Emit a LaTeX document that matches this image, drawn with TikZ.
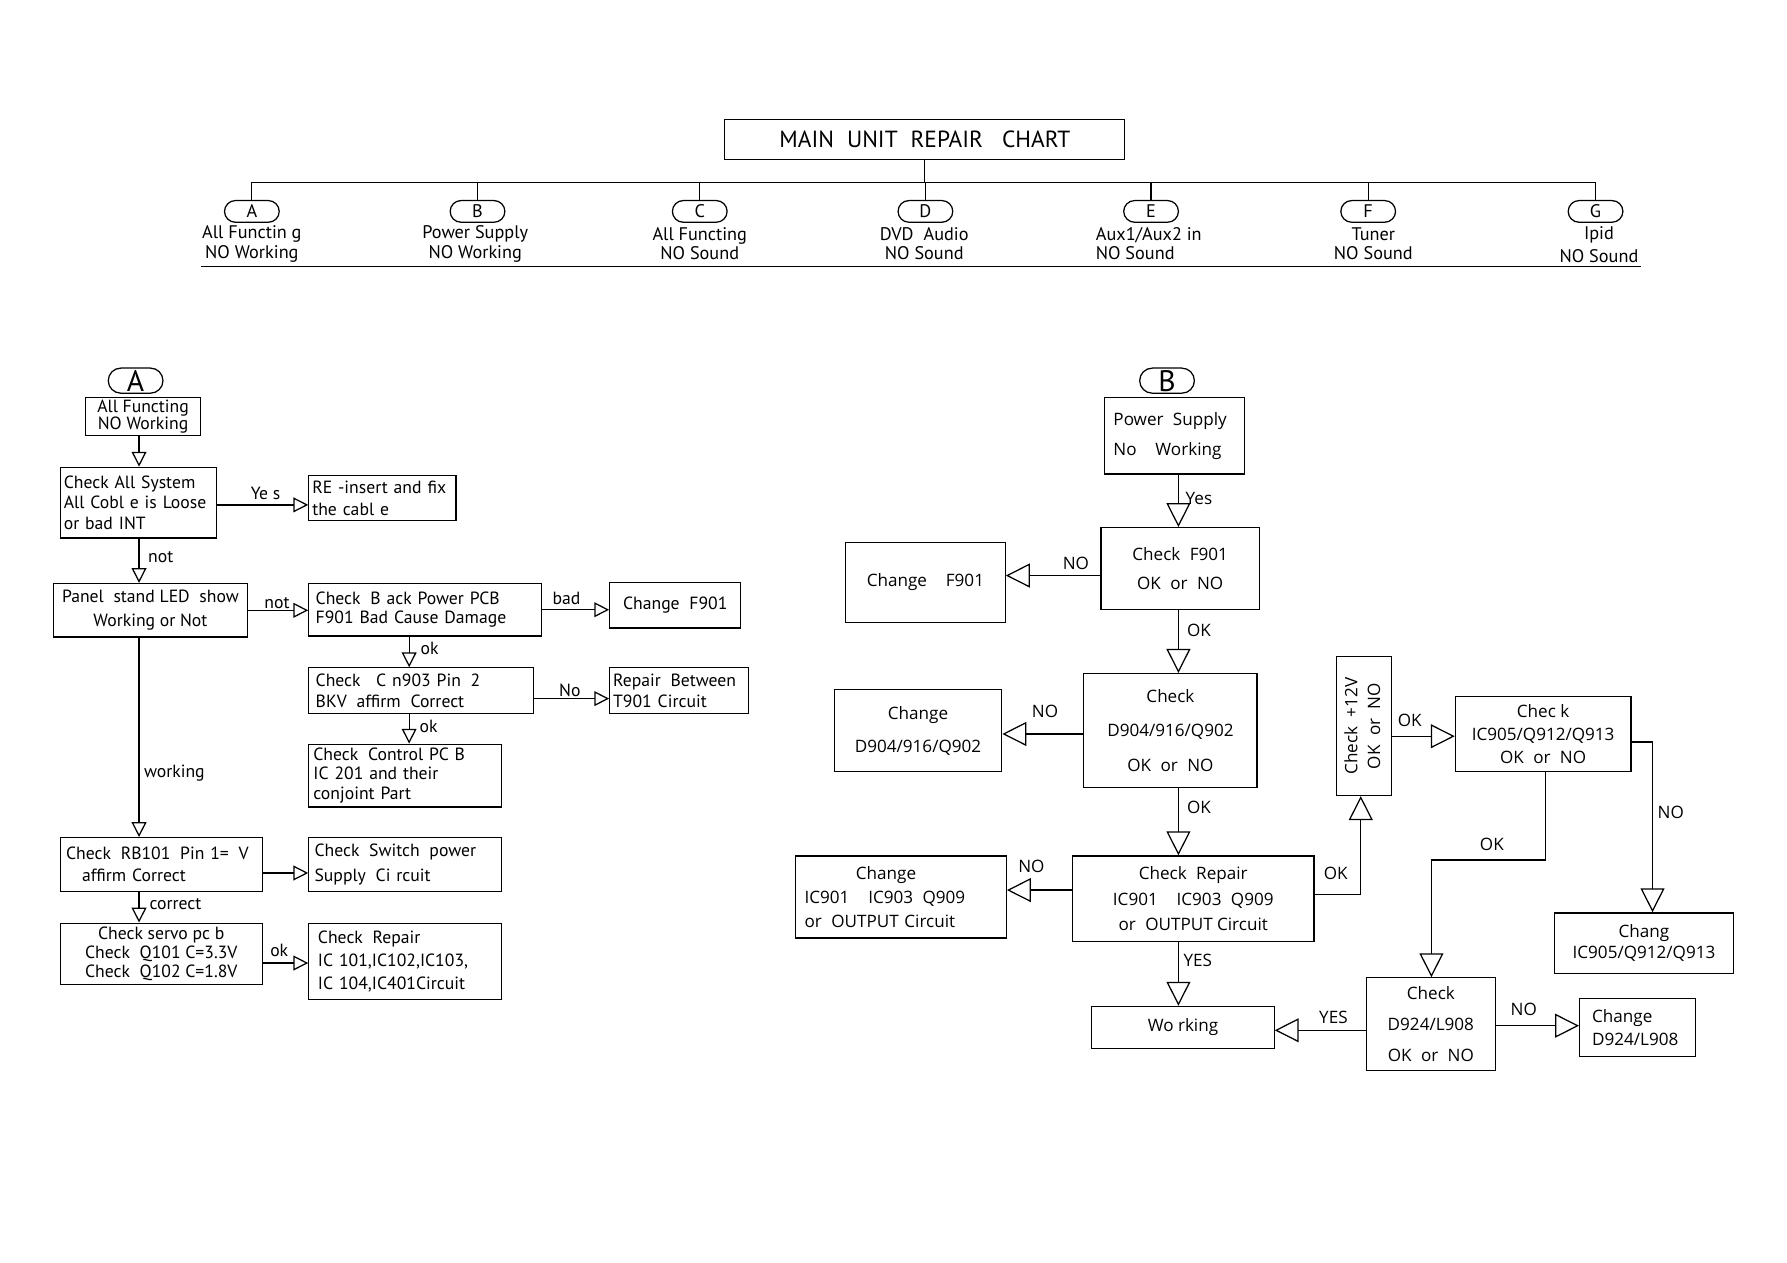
\documentclass[tikz,border=0pt]{standalone}
\usepackage{fontspec}
\usepackage{graphicx}
\setmainfont{PT Sans}
\newfontfamily\fA{PT Sans}
\newfontfamily\fB{Open Sans}
\usetikzlibrary{arrows.meta,calc}
\newcommand\gap{\hspace{0.55em}}
\newcommand\fsA[1]{\fA\fontsize{15.5}{#1}\selectfont}
\newcommand\fsB[1]{\fB\fontsize{15}{#1}\selectfont}
\newcommand\fsH[1]{\fA\fontsize{16}{#1}\selectfont}
\tikzset{
  bx/.style={draw, line width=1.1pt, inner sep=0pt, align=center},
  ovH/.style={draw, line width=1.1pt, inner sep=0pt, rounded corners=9.5pt, minimum width=48pt, minimum height=19pt, font=\fsH{16}},
  ovS/.style={draw, line width=1.1pt, inner sep=0pt, rounded corners=11pt, minimum width=48pt, minimum height=22pt, font=\fA\fontsize{26}{26}\selectfont},
  hl/.style={inner sep=0pt, align=center, font=\fsH{17}},
  arrA/.style={line width=1.1pt, -{Triangle[open,length=13pt,width=13pt,line width=1.1pt]}},
  arrB/.style={line width=1.1pt, -{Triangle[open,length=21pt,width=21pt,line width=1.1pt]}},
  ln/.style={line width=1.1pt},
  lblA/.style={inner sep=0pt, font=\fsA{18}},
  lblB/.style={inner sep=0pt, font=\fsB{18}},
}
\begin{document}
\begin{tikzpicture}[x=1pt,y=-1pt]
\useasboundingbox[fill=white] (0,0) rectangle (1568,1108);

% ---------------- header ----------------
\node[bx, minimum width=351pt, minimum height=35pt, font=\fA\fontsize{20.5}{22}\selectfont] (h0) at (811.5,122.5) {MAIN\gap UNIT\gap REPAIR\gap\ CHART};
\coordinate (bus) at (811.5,160);
\node[ovH] (oA) at (221,185.5) {A};
\node[ovH] (oB) at (419,185.5) {B};
\node[ovH] (oC) at (614,185.5) {C};
\node[ovH] (oD) at (812,185.5) {D};
\node[ovH] (oE) at (1010,185.5) {E};
\node[ovH] (oF) at (1200.5,185.5) {F};
\node[ovH] (oG) at (1400,185.5) {G};
\draw[ln] (h0.south) -- (bus);
\draw[ln] (oA.north) |- (bus) -| (oG.north);
\foreach \n in {oB,oC,oD,oE,oF} \draw[ln] (\n.north) -- (\n.north |- bus);
\node[hl] (tA) at (221,214) {All Functin g\\NO Working};
\node[hl] (tB) at (417,214) {Power Supply\\NO Working};
\node[hl] (tC) at (614,214) {All Functing\\NO Sound};
\node[hl] (tD) at (811,214) {DVD\gap Audio\\NO Sound};
\node[hl, align=left] (tE) at (1008,214) {Aux1/Aux2 in\\NO Sound};
\node[hl] (tF) at (1205,214) {Tuner\\NO Sound};
\node[hl, font=\fsH{20}] (tG) at (1403,215) {Ipid\\NO Sound};
\coordinate (ul1) at (176,234);
\coordinate (ul2) at (1440,234);
\draw[ln] (ul1) -- (ul2);

% ---------------- section A ----------------
\node[ovS] (oa) at (119,334) {A};
\node[bx, minimum width=101pt, minimum height=33pt, font=\fsA{13}] (a1) at (125.5,365.5) {All Functing\\NO Working};
\node[bx, minimum width=137pt, minimum height=62pt, text width=131pt, align=left, font=\fsA{18}] (a2) at (121.5,441) {Check All System\\All Cobl e is Loose\\or bad INT};
\node[bx, minimum width=129pt, minimum height=40pt, text width=123pt, align=left, font=\fsA{19}] (a3) at (335.5,437) {RE -insert and fix\\the cabl e};
\node[bx, minimum width=170pt, minimum height=47pt, font=\fsA{21}] (a4) at (132,535.5) {Panel\gap stand LED\gap show\\Working or Not};
\node[bx, minimum width=204pt, minimum height=46pt, text width=192pt, align=left, font=\fsA{17}] (a5) at (373,535) {Check\gap B ack Power PCB\\F901 Bad Cause Damage};
\node[bx, minimum width=115pt, minimum height=40pt, font=\fsA{18}] (a6) at (592.5,531) {Change\gap F901};
\node[bx, minimum width=197pt, minimum height=40pt, text width=185pt, align=left, font=\fsA{19}] (a7) at (369.5,606) {Check\gap\ C n903 Pin\gap 2\\BKV\gap affirm\gap Correct};
\node[bx, minimum width=122pt, minimum height=40pt, text width=116pt, align=left, font=\fsA{18}] (a8) at (596,606) {Repair\gap Between\\T901 Circuit};
\node[bx, minimum width=169pt, minimum height=55pt, text width=161pt, align=left, font=\fsA{17}] (a9) at (355.5,680.5) {Check\gap Control PC B\\IC 201 and their\\conjoint Part};
\node[bx, minimum width=177pt, minimum height=47pt, text width=167pt, align=left, font=\fsA{19}] (a10) at (141.5,758.5) {Check\gap RB101\gap Pin 1=\gap V\\\hspace*{14pt}affirm Correct};
\node[bx, minimum width=169pt, minimum height=47pt, text width=159pt, align=left, font=\fsA{22}] (a11) at (355.5,758.5) {Check\gap Switch\gap power\\Supply\gap Ci rcuit};
\node[bx, minimum width=177pt, minimum height=54pt, font=\fsA{17}] (a12) at (141.5,837) {Check servo pc b\\Check\gap Q101 C=3.3V\\Check\gap Q102 C=1.8V};
\node[bx, minimum width=169pt, minimum height=67pt, text width=153pt, align=left, font=\fsA{20}] (a13) at (355.5,843.5) {Check\gap Repair\\IC 101,IC102,IC103,\\IC 104,IC401Circuit};

\draw[arrA] ([xshift=-3.5pt]a1.south) -- ([xshift=0.5pt]a2.north);
\draw[arrA] ([yshift=-2pt]a2.east) -- ([yshift=-6pt]a3.west);
\draw[arrA] ([xshift=0.5pt]a2.south) -- ([xshift=-10pt]a4.north);
\draw[arrA] (a4.east) -- (a4.east -| a5.west);
\draw[arrA] (a5.east) -- (a5.east -| a6.west);
\draw[arrA] ([xshift=-14pt]a5.south) -- ([xshift=-10.5pt]a7.north);
\draw[arrA] ([yshift=-7pt]a7.east) -- ([yshift=-7pt]a8.west);
\draw[arrA] ([xshift=-10.5pt]a7.south) -- ([xshift=3.5pt]a9.north);
\draw[arrA] ([xshift=-10pt]a4.south) -- ([xshift=-19.5pt]a10.north);
\draw[arrA] ([yshift=-7.5pt]a10.east) -- ([yshift=-7.5pt]a11.west);
\draw[arrA] ([xshift=-19.5pt]a10.south) -- ([xshift=-19.5pt]a12.north);
\draw[arrA] ([yshift=-8pt]a12.east) -- ([yshift=-1.5pt]a13.west);

\node[lblA] (la1) at (233,433) {Ye s};
\node[lblA] (la2) at (141,489) {not};
\node[lblA] (la3) at (243,529) {not};
\node[lblA] (la4) at (497,525) {bad};
\node[lblA] (la5) at (377,569) {ok};
\node[lblA] (la6) at (500,606) {No};
\node[lblA] (la7) at (376,637) {ok};
\node[lblA] (la8) at (153,678) {working};
\node[lblA] (la9) at (154,793) {correct};
\node[lblA] (la10) at (245,834) {ok};

% ---------------- section B ----------------
\node[ovS] (ob) at (1024,334) {B};
\node[bx, minimum width=123pt, minimum height=67pt, text width=107pt, align=left, font=\fsB{26}] (b1) at (1030.5,382.5) {Power\gap Supply\\No\gap\gap Working};
\node[bx, minimum width=139pt, minimum height=72pt, font=\fsB{26}] (b2) at (1035.5,499) {Check\gap F901\\OK\gap or\gap NO};
\node[bx, minimum width=140pt, minimum height=70pt, font=\fsB{26}] (b3) at (812,511) {Change\gap\gap F901};
\node[bx, minimum width=152pt, minimum height=100pt, font=\fsB{30.5}] (b4) at (1027,641) {Check\\D904/916/Q902\\OK\gap or\gap NO};
\node[bx, minimum width=147pt, minimum height=72pt, font=\fsB{29}] (b5) at (805.5,641) {Change\\D904/916/Q902};
\node[bx, minimum width=212pt, minimum height=75pt, font=\fsB{22.5}] (b6) at (1047,788.5) {Check\gap Repair\\IC901\gap\gap IC903\gap Q909\\or\gap OUTPUT Circuit};
\node[bx, minimum width=185pt, minimum height=72pt, text width=169pt, align=left, font=\fsB{21}] (b7) at (790.5,787) {\hspace*{45pt}Change\\IC901\gap\gap IC903\gap Q909\\or\gap OUTPUT Circuit};
\node[bx, minimum width=160pt, minimum height=37pt, font=\fsB{18}] (b8) at (1038,901.5) {Wo rking};
\node[bx, minimum width=48pt, minimum height=122pt, font=\fsB{20}] (b9) at (1197,637) {\rotatebox{90}{\begin{tabular}{@{}c@{}}Check\gap +12V\\OK\gap or\gap NO\end{tabular}}};
\node[bx, minimum width=154pt, minimum height=66pt, font=\fsB{20.5}] (b10) at (1354,644) {Chec k\\IC905/Q912/Q913\\OK\gap or\gap NO};
\node[bx, minimum width=157pt, minimum height=53pt, font=\fsB{19}] (b11) at (1442.5,827.5) {Chang\\IC905/Q912/Q913};
\node[bx, minimum width=113pt, minimum height=81pt, font=\fsB{27}] (b12) at (1255.5,898.5) {Check\\D924/L908\\OK\gap or\gap NO};
\node[bx, minimum width=102pt, minimum height=51pt, text width=80pt, align=left, font=\fsB{20}] (b13) at (1437,901.5) {Change\\D924/L908};

\draw[arrB] ([xshift=3.5pt]b1.south) -- ([xshift=-1.5pt]b2.north);
\draw[arrB] ([yshift=-6pt]b2.west) -- ([yshift=6pt]b3.east);
\draw[arrB] ([xshift=-1.5pt]b2.south) -- ([xshift=7pt]b4.north);
\draw[arrB] ([yshift=-3pt]b4.west) -- ([yshift=-3pt]b5.east);
\draw[arrB] ([xshift=7pt]b4.south) -- ([xshift=-13pt]b6.north);
\draw[arrB] ([yshift=7.5pt]b6.west) -- ([yshift=6pt]b7.east);
\draw[arrB] ([xshift=-13pt]b6.south) -- ([xshift=-4pt]b8.north);
\draw[arrB] ([yshift=3.5pt]b6.east) -| ([xshift=-3pt]b9.south);
\draw[arrB] ([yshift=-9pt]b9.east) -- ([yshift=-2pt]b10.west);
\draw[arrB] ([yshift=-7pt]b10.east) -| ([xshift=7.5pt]b11.north);
\draw[arrB] ([xshift=2pt]b10.south) -- ++(0,77) -| ([xshift=0.5pt]b12.north);
\draw[arrB] ([yshift=-5.5pt]b12.west) -- ([yshift=-2.5pt]b8.east);
\draw[arrB] ([yshift=-1.5pt]b12.east) -- ([yshift=1.5pt]b13.west);

\node[lblB] (lb1) at (1052,437) {Yes};
\node[lblB] (lb2) at (944,494) {NO};
\node[lblB] (lb3) at (1052,553) {OK};
\node[lblB] (lb4) at (917,624) {NO};
\node[lblB] (lb5) at (1052,708) {OK};
\node[lblB] (lb6) at (905,760) {NO};
\node[lblB] (lb7) at (1051,843) {YES};
\node[lblB] (lb8) at (1172,766) {OK};
\node[lblB] (lb9) at (1237,632) {OK};
\node[lblB] (lb10) at (1466,713) {NO};
\node[lblB] (lb11) at (1309,741) {OK};
\node[lblB] (lb12) at (1170,893) {YES};
\node[lblB] (lb13) at (1337,886) {NO};
\end{tikzpicture}
\end{document}
